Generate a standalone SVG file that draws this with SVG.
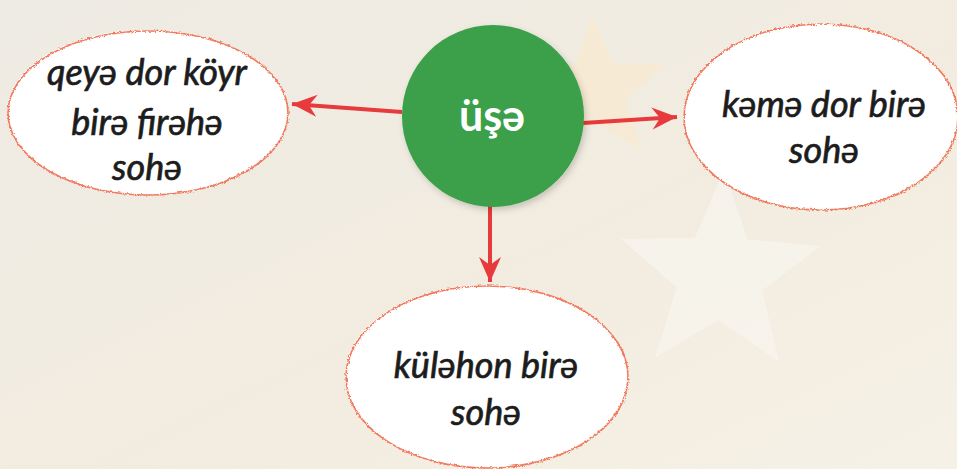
<svg xmlns="http://www.w3.org/2000/svg" width="957" height="469" viewBox="0 0 957 469">
<defs>
<linearGradient id="bg" x1="0" y1="0" x2="1" y2="1">
<stop offset="0" stop-color="#eeebe4"/>
<stop offset="0.55" stop-color="#f2ece0"/>
<stop offset="1" stop-color="#f6f1e6"/>
</linearGradient>
<filter id="wave" x="-5%" y="-5%" width="110%" height="110%">
<feTurbulence type="turbulence" baseFrequency="0.3" numOctaves="1" seed="3" result="n"/>
<feDisplacementMap in="SourceGraphic" in2="n" scale="3" xChannelSelector="R" yChannelSelector="G"/>
</filter>
<filter id="shadow" x="-20%" y="-20%" width="140%" height="140%">
<feDropShadow dx="2" dy="3" stdDeviation="3" flood-color="#000" flood-opacity="0.18"/>
</filter>
<marker id="ah" markerUnits="userSpaceOnUse" viewBox="-26 -13 28 26" refX="0" refY="0" markerWidth="28" markerHeight="26" orient="auto">
<path d="M0 0 L-25 -11 L-17 0 L-25 11 Z" fill="#e63a3c"/>
</marker>
</defs>
<style>
.bub{fill:#ffffff}
.rim{fill:none;stroke:#f07a5e;stroke-width:1.6;filter:url(#wave)}
.lbl{font-family:Lato,"Liberation Sans",sans-serif;font-style:italic;font-weight:normal;font-size:36px;fill:#1c1c1c;stroke:#1c1c1c;stroke-width:0.7px;text-anchor:middle}
.conn{stroke:#e63a3c;stroke-width:4;fill:none;marker-end:url(#ah)}
</style>
<rect width="957" height="469" fill="url(#bg)"/>
<g id="background">
<polygon points="665.5,64.3 626,99 641,149 596,122 553,152 565,101 523,69 575,65 592,15 613,63.5" fill="#fbe9cc" opacity="0.65"/>
<polygon points="621,239 676.7,287.4 655,358 718.4,320 779,362 762.3,290.4 821,246 747.7,239.5 724,170 694.8,237.7" fill="#f8f6f1" opacity="0.6"/>
</g>
<g id="connectors">
<line class="conn" x1="402" y1="112" x2="292" y2="104"/>
<line class="conn" x1="583" y1="123" x2="677" y2="117"/>
<line class="conn" x1="490" y1="205" x2="490" y2="282"/>
</g>
<g id="center">
<circle cx="493" cy="116" r="91" fill="#3aa04a" filter="url(#shadow)"/>
<text x="492" y="131" font-family="Lato,'Liberation Sans',sans-serif" font-weight="bold" font-size="43" fill="#ffffff" text-anchor="middle">üşə</text>
</g>
<g id="node-left">
<ellipse class="bub" cx="147" cy="112" rx="140" ry="82"/>
<ellipse class="rim" cx="147" cy="112" rx="140" ry="82"/>
<text class="lbl" x="147" y="85">qeyə dor köyr</text>
<text class="lbl" x="147" y="135">birə firəhə</text>
<text class="lbl" x="147" y="180">sohə</text>
</g>
<g id="node-right">
<ellipse class="bub" cx="820" cy="116" rx="137" ry="93"/>
<ellipse class="rim" cx="820" cy="116" rx="137" ry="93"/>
<text class="lbl" x="824" y="117">kəmə dor birə</text>
<text class="lbl" x="824" y="163">sohə</text>
</g>
<g id="node-bottom">
<ellipse class="bub" cx="486" cy="376" rx="141" ry="91"/>
<ellipse class="rim" cx="486" cy="376" rx="141" ry="91"/>
<text class="lbl" x="486" y="378">küləhon birə</text>
<text class="lbl" x="486" y="425">sohə</text>
</g>
</svg>
